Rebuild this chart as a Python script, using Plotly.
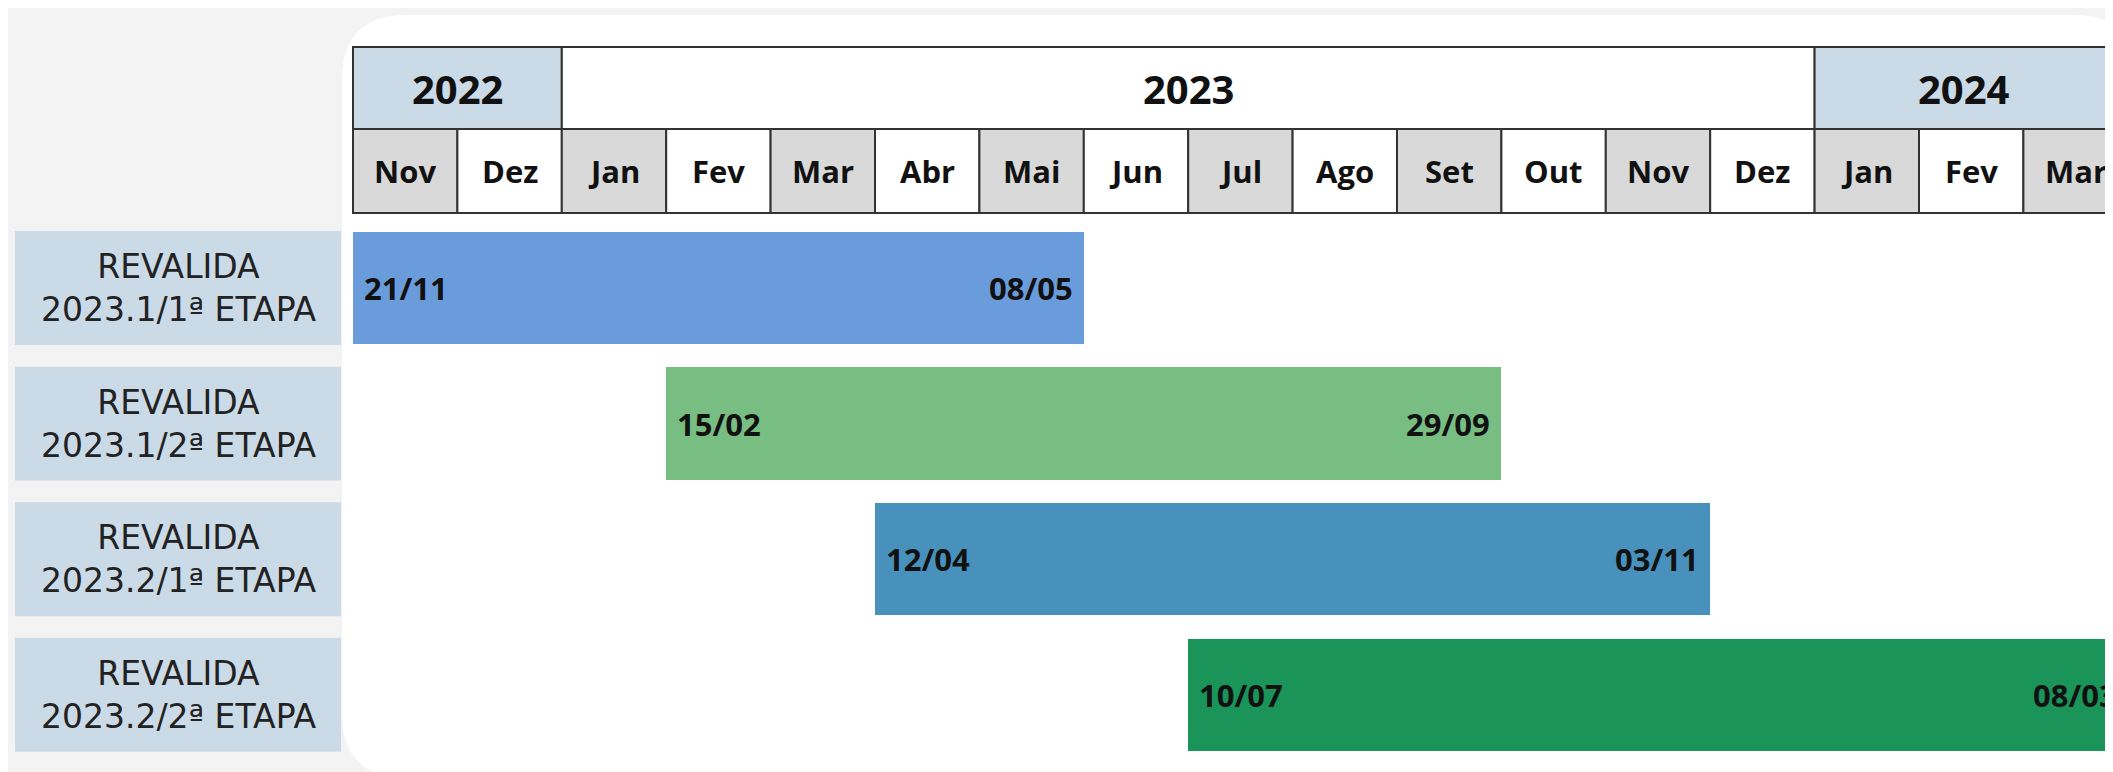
import plotly.graph_objects as go

W, H = 2113, 772
OFF = 8            # page body margin
FW = W + 40        # figure a little wider than the window so the last bar runs off the edge

# --- data ---
rows = [
    "REVALIDA<br>2023.1/1ª ETAPA",
    "REVALIDA<br>2023.1/2ª ETAPA",
    "REVALIDA<br>2023.2/1ª ETAPA",
    "REVALIDA<br>2023.2/2ª ETAPA",
]
start_month = ["2022-11", "2023-02", "2023-04", "2023-07"]
end_month = ["2023-05", "2023-09", "2023-11", "2024-03"]
start_labels = ["21/11", "15/02", "12/04", "10/07"]
end_labels = ["08/05", "29/09", "03/11", "08/03"]
bar_colors = ["#6a9bdb", "#78be83", "#4891bd", "#1a9459"]

month_labels = ["Nov", "Dez", "Jan", "Fev", "Mar", "Abr", "Mai", "Jun", "Jul",
                "Ago", "Set", "Out", "Nov", "Dez", "Jan", "Fev", "Mar"]
years = ["2022", "2023", "2024"]
months_per_year = [2, 12, 3]
year_colors = ["#cbdae7", "#ffffff", "#cbdae7"]


def month_idx(s):
    y, m = s.split("-")
    return (int(y) - 2022) * 12 + int(m) - 11


# window pixel -> paper
def xp(px):
    return (px - OFF) / FW


def yp(px):
    return 1 - (px - OFF) / H


starts = [month_idx(s) for s in start_month]
lengths = [month_idx(e) - month_idx(s) + 1 for s, e in zip(start_month, end_month)]

# pixel geometry (window coords)
x0_px, mw = 353, 104.4       # left of table, month width
row0_px, pitch = 288, 135.6  # first row centre, row pitch
bw = 0.83

fig = go.Figure()
fig.add_trace(go.Bar(
    y=rows, x=lengths, base=starts, orientation="h",
    marker=dict(color=bar_colors, line=dict(width=0)),
    width=bw, hoverinfo="skip", showlegend=False,
))

shapes = []
# white rounded panel
px0, px1, py0, py1, r = 342, 2138, 15, 778, 65
path = (f"M {xp(px0 + r)},{yp(py0)} L {xp(px1 - r)},{yp(py0)} "
        f"Q {xp(px1)},{yp(py0)} {xp(px1)},{yp(py0 + r)} L {xp(px1)},{yp(py1 - r)} "
        f"Q {xp(px1)},{yp(py1)} {xp(px1 - r)},{yp(py1)} L {xp(px0 + r)},{yp(py1)} "
        f"Q {xp(px0)},{yp(py1)} {xp(px0)},{yp(py1 - r)} L {xp(px0)},{yp(py0 + r)} "
        f"Q {xp(px0)},{yp(py0)} {xp(px0 + r)},{yp(py0)} Z")
shapes.append(dict(type="path", xref="paper", yref="paper", path=path,
                   fillcolor="white", line=dict(width=0), layer="below"))

border = dict(color="#333333", width=2)
annotations = []
hdr_font = dict(family="Open Sans", size=31, color="#111")

# year header
m = 0
vis_right = (W - x0_px) / mw
for yr, n, c in zip(years, months_per_year, year_colors):
    shapes.append(dict(type="rect", xref="x", yref="paper", x0=m, x1=m + n,
                       y0=yp(129), y1=yp(47), fillcolor=c, line=border, layer="below"))
    annotations.append(dict(xref="x", yref="paper", x=(m + min(m + n, vis_right)) / 2,
                            y=yp(88), xanchor="center", yanchor="middle",
                            text=f"<b>{yr}</b>", showarrow=False,
                            font=dict(family="Open Sans", size=40, color="#111")))
    m += n

# month header
for i, lab in enumerate(month_labels):
    shapes.append(dict(type="rect", xref="x", yref="paper", x0=i, x1=i + 1,
                       y0=yp(213), y1=yp(129),
                       fillcolor="#d9d9d9" if i % 2 == 0 else "#ffffff",
                       line=border, layer="below"))
    annotations.append(dict(xref="x", yref="paper", x=i + 0.5, y=yp(171),
                            xanchor="center", yanchor="middle",
                            text=f"<b>{lab}</b>", showarrow=False, font=hdr_font))

# row label boxes
for i, lab in enumerate(rows):
    shapes.append(dict(type="rect", xref="paper", yref="y", x0=xp(15), x1=xp(341),
                       y0=i - 0.42, y1=i + 0.42, fillcolor="#cbdae7",
                       line=dict(width=0), layer="below"))
    annotations.append(dict(xref="paper", yref="y", x=xp(178), y=lab, text=lab,
                            xanchor="center", yanchor="middle", showarrow=False,
                            font=dict(family="DejaVu Sans", size=33, color="#222")))

# date labels on bars
for lab, s, n, sl, el in zip(rows, starts, lengths, start_labels, end_labels):
    annotations.append(dict(xref="x", yref="y", x=s, y=lab, text=f"<b>{sl}</b>",
                            xanchor="left", yanchor="middle", xshift=9,
                            showarrow=False, font=hdr_font))
    annotations.append(dict(xref="x", yref="y", x=s + n, y=lab, text=f"<b>{el}</b>",
                            xanchor="right", yanchor="middle", xshift=-9,
                            showarrow=False, font=hdr_font))

fig.update_layout(
    width=FW, height=H,
    margin=dict(l=0, r=0, t=0, b=0),
    paper_bgcolor="#f3f3f3",
    plot_bgcolor="rgba(0,0,0,0)",
    shapes=shapes,
    annotations=annotations,
    bargap=0,
    xaxis=dict(range=[-(x0_px - OFF) / mw, (FW - (x0_px - OFF)) / mw],
               visible=False, fixedrange=True),
    yaxis=dict(range=[(H - (row0_px - OFF)) / pitch, -(row0_px - OFF) / pitch],
               visible=False, fixedrange=True, type="category"),
)

# figure overflows the window on purpose; keep scrollbars from eating the edge
fig.write_html(
    "out.html",
    post_script="document.documentElement.style.overflow='hidden';"
                "document.body.style.overflow='hidden';",
)
